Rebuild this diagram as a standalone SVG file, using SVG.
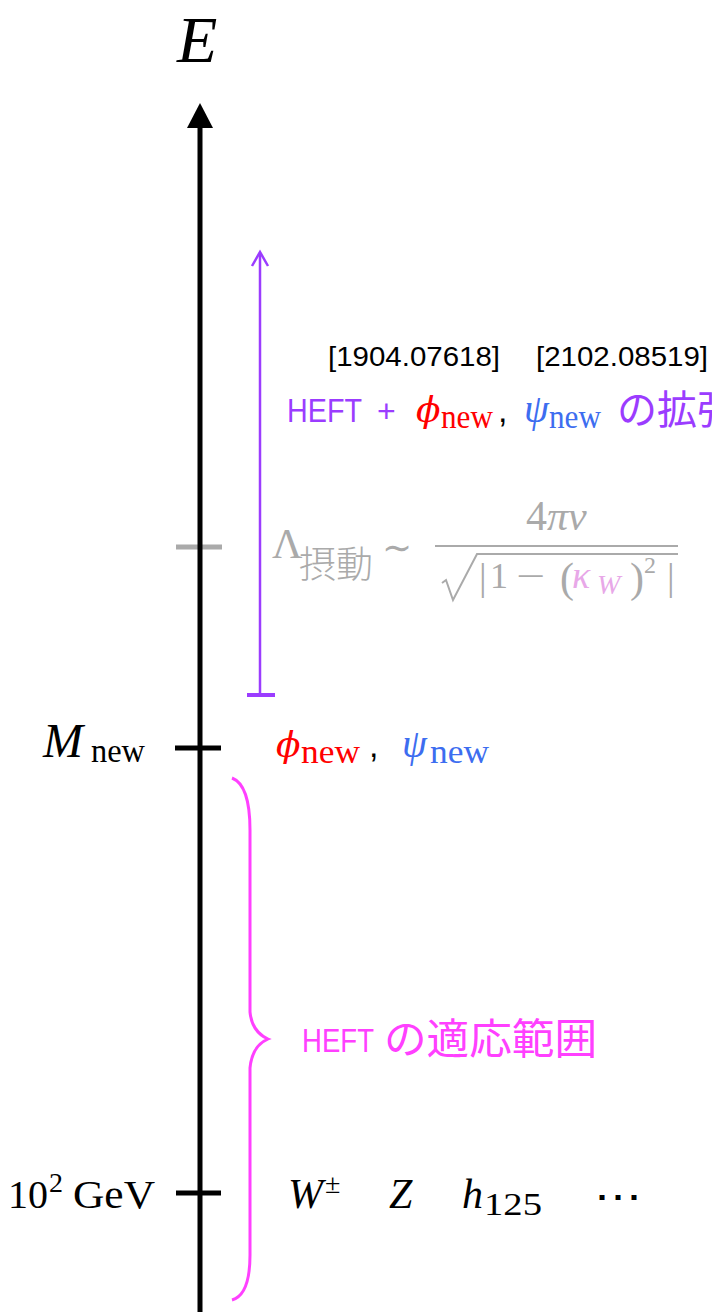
<svg xmlns="http://www.w3.org/2000/svg" width="712" height="1312" viewBox="0 0 712 1312">
<style>
.m{font-family:"Liberation Serif","DejaVu Serif",serif;}
.d{font-family:"DejaVu Serif","Liberation Serif",serif;}
.i{font-style:italic;}
.s{font-family:"Liberation Sans","Noto Sans CJK JP",sans-serif;}
.j{font-family:"Noto Sans CJK JP","Noto Sans CJK SC",sans-serif;}
.red{fill:#ff0000;}
.blue{fill:#3d6df0;}
.pur{fill:#9b3cff;}
.mag{fill:#ff40ff;}
.gray{fill:#aaaaaa;}
.pink{fill:#e8a8e8;}
</style>
<rect width="712" height="1312" fill="#fff"/>
<g id="connectors">
<line x1="176" y1="547" x2="222" y2="547" stroke="#aaaaaa" stroke-width="5"/>
<line x1="200" y1="1312" x2="200" y2="126" stroke="#000" stroke-width="5"/>
<path d="M187,128 L200,103 L213,128 Z" fill="#000"/>
<line x1="175" y1="748" x2="221" y2="748" stroke="#000" stroke-width="5"/>
<line x1="176" y1="1193" x2="221" y2="1193" stroke="#000" stroke-width="5"/>
<line x1="260" y1="695" x2="260" y2="253" stroke="#9b3cff" stroke-width="2.5"/>
<path d="M252,266 L260,252 L268,266" fill="none" stroke="#9b3cff" stroke-width="2.5"/>
<line x1="247" y1="695" x2="275" y2="695" stroke="#9b3cff" stroke-width="4"/>
<path d="M232,778 Q250,785 250,830 L250,1012 Q252,1032 268,1039 Q252,1046 250,1068 L250,1255 Q250,1295 232,1300" fill="none" stroke="#ff40ff" stroke-width="3"/>
</g>
<g id="axis-label">
<text x="177" y="62" class="m i" font-size="66">E</text>
</g>
<g id="refs">
<text x="328" y="366" class="s" font-size="27" textLength="172" lengthAdjust="spacingAndGlyphs">[1904.07618]</text>
<text x="536" y="366" class="s" font-size="27" textLength="172" lengthAdjust="spacingAndGlyphs">[2102.08519]</text>
</g>
<g id="heft-ext">
<text x="287" y="422" class="s pur" font-size="33" textLength="75" lengthAdjust="spacingAndGlyphs">HEFT</text>
<text x="377" y="422" class="s pur" font-size="32">+</text>
<text x="416" y="422" class="d i red" font-size="36">ϕ</text>
<text x="441" y="428" class="m red" font-size="33" textLength="52" lengthAdjust="spacingAndGlyphs">new</text>
<text x="498" y="422" class="s" font-size="34">,</text>
<text x="524" y="422" class="m i blue" font-size="40">ψ</text>
<text x="549" y="428" class="m blue" font-size="33" textLength="52" lengthAdjust="spacingAndGlyphs">new</text>
<text x="617" y="424" class="j pur" font-size="40">の拡張</text>
</g>
<g id="lambda">
<text x="272" y="558" class="m gray" font-size="42">Λ</text>
<text x="299" y="578" class="j gray" font-size="37" font-weight="300">摂動</text>
<text x="382" y="560" class="d gray" font-size="36">∼</text>
<line x1="435" y1="546" x2="678" y2="546" stroke="#aaaaaa" stroke-width="2"/>
<text x="526" y="530" class="m gray" font-size="42">4<tspan class="i">πv</tspan></text>
<path d="M442,583 L446,580 L453,600 L477,554 L678,554" fill="none" stroke="#aaaaaa" stroke-width="2"/>
<text x="479" y="590" class="m gray" font-size="38">|</text>
<text x="490" y="588" class="m gray" font-size="36">1</text>
<text x="516" y="588" class="m gray" font-size="36" textLength="29" lengthAdjust="spacingAndGlyphs">−</text>
<text x="560" y="592" class="m gray" font-size="42">(</text>
<text x="572" y="588" class="m i pink" font-size="38">κ</text>
<text x="597" y="594" class="m i pink" font-size="28">W</text>
<text x="630" y="592" class="m gray" font-size="42">)</text>
<text x="644" y="573" class="m gray" font-size="24">2</text>
<text x="667" y="590" class="m gray" font-size="38">|</text>
</g>
<g id="mnew">
<text x="43" y="757" class="m i" font-size="48">M</text>
<text x="91" y="762" class="m" font-size="33" textLength="54" lengthAdjust="spacingAndGlyphs">new</text>
<text x="276" y="757" class="d i red" font-size="36">ϕ</text>
<text x="301" y="763" class="m red" font-size="33" textLength="59" lengthAdjust="spacingAndGlyphs">new</text>
<text x="369" y="757" class="s" font-size="34">,</text>
<text x="402" y="757" class="m i blue" font-size="40">ψ</text>
<text x="430" y="763" class="m blue" font-size="33" textLength="59" lengthAdjust="spacingAndGlyphs">new</text>
</g>
<g id="heft-range">
<text x="302" y="1052" class="s mag" font-size="34" textLength="72" lengthAdjust="spacingAndGlyphs">HEFT</text>
<text x="384" y="1054" class="j mag" font-size="42" textLength="213" lengthAdjust="spacingAndGlyphs">の適応範囲</text>
</g>
<g id="gev">
<text x="8" y="1208" class="m" font-size="40">10</text>
<text x="49" y="1192" class="m" font-size="28">2</text>
<text x="73" y="1208" class="m" font-size="40" textLength="82" lengthAdjust="spacingAndGlyphs">GeV</text>
</g>
<g id="particles">
<text x="288" y="1208" class="m i" font-size="42">W</text>
<text x="325" y="1193" class="m" font-size="28">±</text>
<text x="389" y="1208" class="m i" font-size="42">Z</text>
<text x="462" y="1208" class="m i" font-size="42">h</text>
<text x="484" y="1215" class="m" font-size="32" textLength="58" lengthAdjust="spacingAndGlyphs">125</text>
<text x="594" y="1210" class="d" font-size="40" textLength="48" lengthAdjust="spacingAndGlyphs">⋯</text>
</g>
</svg>
